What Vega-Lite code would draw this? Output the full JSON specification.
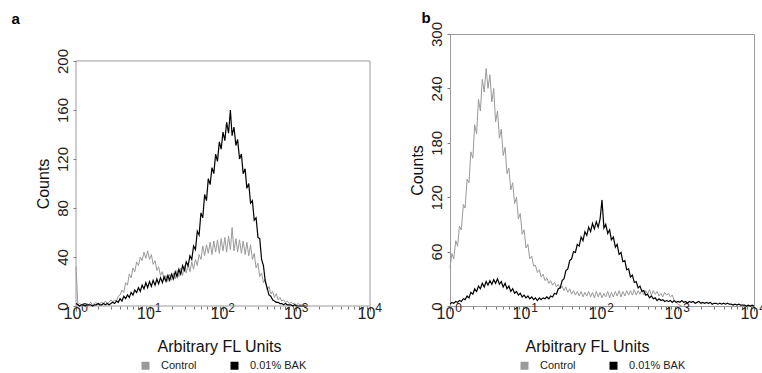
{
  "$schema": "https://vega.github.io/schema/vega-lite/v6.json",
  "background": "white",
  "padding": {"left": 11, "top": 9, "right": 0, "bottom": 0},
  "spacing": 26,
  "datasets": {
    "a": [{"x":1,"C":32,"B":2},{"x":1.06,"C":1,"B":1},{"x":1.12,"C":2,"B":0},{"x":1.19,"C":1,"B":1},{"x":1.26,"C":2,"B":1},{"x":1.33,"C":1,"B":0},{"x":1.41,"C":2,"B":1},{"x":1.5,"C":1,"B":1},{"x":1.58,"C":3,"B":1},{"x":1.68,"C":1,"B":0},{"x":1.78,"C":2,"B":1},{"x":1.88,"C":3,"B":1},{"x":2,"C":1,"B":2},{"x":2.11,"C":2,"B":1},{"x":2.24,"C":3,"B":1},{"x":2.37,"C":2,"B":2},{"x":2.51,"C":4,"B":1},{"x":2.66,"C":2,"B":2},{"x":2.82,"C":3,"B":1},{"x":2.99,"C":5,"B":2},{"x":3.16,"C":3,"B":3},{"x":3.35,"C":5,"B":2},{"x":3.55,"C":4,"B":4},{"x":3.76,"C":8,"B":3},{"x":3.98,"C":9,"B":6},{"x":4.22,"C":13,"B":4},{"x":4.47,"C":11,"B":8},{"x":4.73,"C":19,"B":6},{"x":5.01,"C":17,"B":9},{"x":5.31,"C":26,"B":7},{"x":5.62,"C":23,"B":11},{"x":5.96,"C":31,"B":9},{"x":6.31,"C":28,"B":13},{"x":6.68,"C":36,"B":11},{"x":7.08,"C":33,"B":15},{"x":7.5,"C":40,"B":12},{"x":7.94,"C":37,"B":17},{"x":8.41,"C":44,"B":14},{"x":8.91,"C":39,"B":19},{"x":9.44,"C":45,"B":15},{"x":10,"C":38,"B":20},{"x":10.6,"C":42,"B":16},{"x":11.2,"C":34,"B":21},{"x":11.9,"C":37,"B":17},{"x":12.6,"C":29,"B":22},{"x":13.3,"C":32,"B":18},{"x":14.1,"C":25,"B":23},{"x":15,"C":28,"B":19},{"x":15.8,"C":21,"B":24},{"x":16.8,"C":25,"B":20},{"x":17.8,"C":20,"B":25},{"x":18.8,"C":26,"B":21},{"x":20,"C":21,"B":26},{"x":21.1,"C":27,"B":22},{"x":22.4,"C":22,"B":28},{"x":23.7,"C":29,"B":24},{"x":25.1,"C":24,"B":30},{"x":26.6,"C":31,"B":26},{"x":28.2,"C":25,"B":33},{"x":29.9,"C":33,"B":29},{"x":31.6,"C":27,"B":36},{"x":33.5,"C":34,"B":33},{"x":35.5,"C":28,"B":41},{"x":37.6,"C":36,"B":38},{"x":39.8,"C":30,"B":49},{"x":42.2,"C":38,"B":46},{"x":44.7,"C":33,"B":61},{"x":47.3,"C":42,"B":58},{"x":50.1,"C":38,"B":76},{"x":53.1,"C":49,"B":72},{"x":56.2,"C":41,"B":91},{"x":59.6,"C":50,"B":86},{"x":63.1,"C":43,"B":104},{"x":66.8,"C":52,"B":99},{"x":70.8,"C":42,"B":113},{"x":75,"C":53,"B":108},{"x":79.4,"C":44,"B":124},{"x":84.1,"C":54,"B":118},{"x":89.1,"C":43,"B":134},{"x":94.4,"C":55,"B":128},{"x":100,"C":45,"B":142},{"x":106,"C":56,"B":135},{"x":112,"C":44,"B":150},{"x":119,"C":57,"B":141},{"x":126,"C":46,"B":160},{"x":133,"C":64,"B":139},{"x":141,"C":45,"B":146},{"x":150,"C":55,"B":131},{"x":158,"C":44,"B":136},{"x":168,"C":54,"B":120},{"x":178,"C":43,"B":124},{"x":188,"C":53,"B":108},{"x":200,"C":42,"B":112},{"x":211,"C":52,"B":96},{"x":224,"C":41,"B":100},{"x":237,"C":50,"B":84},{"x":251,"C":38,"B":86},{"x":266,"C":43,"B":70},{"x":282,"C":31,"B":72},{"x":299,"C":35,"B":56},{"x":316,"C":24,"B":55},{"x":335,"C":27,"B":38},{"x":355,"C":19,"B":33},{"x":376,"C":22,"B":20},{"x":398,"C":13,"B":15},{"x":422,"C":16,"B":9},{"x":447,"C":10,"B":8},{"x":473,"C":12,"B":5},{"x":501,"C":7,"B":4},{"x":531,"C":10,"B":3},{"x":562,"C":5,"B":3},{"x":596,"C":7,"B":2},{"x":631,"C":4,"B":2},{"x":668,"C":5,"B":1},{"x":708,"C":3,"B":2},{"x":750,"C":4,"B":1},{"x":794,"C":2,"B":1},{"x":841,"C":3,"B":1},{"x":891,"C":2,"B":0},{"x":944,"C":2,"B":1},{"x":1000,"C":1,"B":0},{"x":1060,"C":2,"B":0},{"x":1120,"C":1,"B":0},{"x":1190,"C":1,"B":0},{"x":1260,"C":0,"B":0},{"x":1330,"C":0,"B":0}],
    "b": [{"x":1,"C":42,"B":2},{"x":1.06,"C":58,"B":4},{"x":1.12,"C":52,"B":3},{"x":1.19,"C":72,"B":5},{"x":1.26,"C":66,"B":4},{"x":1.33,"C":88,"B":6},{"x":1.41,"C":84,"B":5},{"x":1.5,"C":112,"B":8},{"x":1.58,"C":108,"B":7},{"x":1.68,"C":140,"B":11},{"x":1.78,"C":136,"B":9},{"x":1.88,"C":170,"B":15},{"x":2,"C":163,"B":13},{"x":2.11,"C":200,"B":19},{"x":2.24,"C":190,"B":16},{"x":2.37,"C":228,"B":22},{"x":2.51,"C":215,"B":19},{"x":2.66,"C":250,"B":25},{"x":2.82,"C":236,"B":21},{"x":2.99,"C":262,"B":27},{"x":3.16,"C":240,"B":23},{"x":3.35,"C":255,"B":28},{"x":3.55,"C":225,"B":24},{"x":3.76,"C":240,"B":29},{"x":3.98,"C":203,"B":25},{"x":4.22,"C":215,"B":30},{"x":4.47,"C":185,"B":24},{"x":4.73,"C":195,"B":27},{"x":5.01,"C":166,"B":21},{"x":5.31,"C":175,"B":25},{"x":5.62,"C":146,"B":19},{"x":5.96,"C":152,"B":22},{"x":6.31,"C":128,"B":16},{"x":6.68,"C":136,"B":19},{"x":7.08,"C":113,"B":14},{"x":7.5,"C":120,"B":16},{"x":7.94,"C":96,"B":12},{"x":8.41,"C":102,"B":14},{"x":8.91,"C":79,"B":10},{"x":9.44,"C":84,"B":12},{"x":10,"C":64,"B":9},{"x":10.6,"C":68,"B":11},{"x":11.2,"C":52,"B":8},{"x":11.9,"C":55,"B":10},{"x":12.6,"C":44,"B":7},{"x":13.3,"C":45,"B":9},{"x":14.1,"C":37,"B":6},{"x":15,"C":40,"B":9},{"x":15.8,"C":32,"B":7},{"x":16.8,"C":35,"B":9},{"x":17.8,"C":28,"B":8},{"x":18.8,"C":31,"B":10},{"x":20,"C":25,"B":8},{"x":21.1,"C":28,"B":11},{"x":22.4,"C":23,"B":10},{"x":23.7,"C":26,"B":14},{"x":25.1,"C":21,"B":13},{"x":26.6,"C":24,"B":19},{"x":28.2,"C":19,"B":20},{"x":29.9,"C":22,"B":28},{"x":31.6,"C":17,"B":30},{"x":33.5,"C":21,"B":39},{"x":35.5,"C":15,"B":41},{"x":37.6,"C":19,"B":50},{"x":39.8,"C":13,"B":52},{"x":42.2,"C":17,"B":60},{"x":44.7,"C":12,"B":59},{"x":47.3,"C":16,"B":68},{"x":50.1,"C":11,"B":66},{"x":53.1,"C":16,"B":76},{"x":56.2,"C":10,"B":72},{"x":59.6,"C":15,"B":82},{"x":63.1,"C":11,"B":78},{"x":66.8,"C":16,"B":87},{"x":70.8,"C":10,"B":82},{"x":75,"C":15,"B":91},{"x":79.4,"C":9,"B":85},{"x":84.1,"C":16,"B":93},{"x":89.1,"C":10,"B":87},{"x":94.4,"C":15,"B":96},{"x":100,"C":9,"B":117},{"x":106,"C":14,"B":86},{"x":112,"C":10,"B":90},{"x":119,"C":16,"B":80},{"x":126,"C":9,"B":84},{"x":133,"C":15,"B":73},{"x":141,"C":10,"B":76},{"x":150,"C":16,"B":65},{"x":158,"C":11,"B":68},{"x":168,"C":17,"B":57},{"x":178,"C":10,"B":59},{"x":188,"C":16,"B":49},{"x":200,"C":11,"B":50},{"x":211,"C":17,"B":40},{"x":224,"C":12,"B":41},{"x":237,"C":17,"B":32},{"x":251,"C":12,"B":34},{"x":266,"C":18,"B":26},{"x":282,"C":12,"B":27},{"x":299,"C":17,"B":20},{"x":316,"C":13,"B":22},{"x":335,"C":18,"B":16},{"x":355,"C":12,"B":17},{"x":376,"C":17,"B":12},{"x":398,"C":13,"B":13},{"x":422,"C":18,"B":9},{"x":447,"C":12,"B":11},{"x":473,"C":17,"B":8},{"x":501,"C":13,"B":9},{"x":531,"C":16,"B":6},{"x":562,"C":11,"B":8},{"x":596,"C":14,"B":6},{"x":631,"C":10,"B":7},{"x":668,"C":15,"B":5},{"x":708,"C":12,"B":6},{"x":750,"C":14,"B":5},{"x":794,"C":10,"B":6},{"x":841,"C":12,"B":4},{"x":891,"C":6,"B":6},{"x":944,"C":4,"B":4},{"x":1000,"C":2,"B":5},{"x":1060,"C":1,"B":4},{"x":1120,"C":0,"B":6},{"x":1190,"B":4},{"x":1260,"B":5},{"x":1330,"B":3},{"x":1410,"B":5},{"x":1500,"B":4},{"x":1580,"B":5},{"x":1680,"B":3},{"x":1780,"B":4},{"x":1880,"B":5},{"x":2000,"B":3},{"x":2110,"B":4},{"x":2240,"B":3},{"x":2370,"B":4},{"x":2510,"B":3},{"x":2660,"B":4},{"x":2820,"B":2},{"x":2990,"B":3},{"x":3160,"B":3},{"x":3350,"B":2},{"x":3550,"B":3},{"x":3760,"B":2},{"x":3980,"B":3},{"x":4220,"B":2},{"x":4470,"B":3},{"x":4730,"B":2},{"x":5010,"B":2},{"x":5310,"B":1},{"x":5620,"B":2},{"x":5960,"B":1},{"x":6310,"B":2},{"x":6680,"B":1},{"x":7080,"B":1},{"x":7500,"B":1},{"x":7940,"B":0},{"x":8410,"B":1},{"x":8910,"B":0},{"x":9440,"B":1},{"x":10000,"B":0}]
  },
  "hconcat": [
    {
      "width": 294,
      "height": 272,
      "view": {"stroke": null},
      "data": {"name": "a"},
      "transform": [{"fold": ["C", "B"], "as": ["s", "y"]}],
      "layer": [
        {
          "data": {"values": [{}]},
          "mark": {"type": "rect", "fill": null, "stroke": "#9a9a9a", "strokeWidth": 1},
          "encoding": {
            "x": {"datum": 1, "type": "quantitative", "scale": {"type": "log", "domain": [1, 10000], "nice": false}, "axis": null},
            "x2": {"datum": 10000},
            "y": {"datum": 0, "type": "quantitative", "scale": {"domain": [0, 222], "nice": false}, "axis": null},
            "y2": {"datum": 200}
          }
        },
        {
          "transform": [{"filter": "datum.s == 'C'"}],
          "mark": {"type": "line", "strokeWidth": 1},
          "encoding": {
            "x": {"field": "x", "type": "quantitative", "scale": {"type": "log", "domain": [1, 10000], "nice": false},
              "axis": {"orient": "bottom", "domain": false, "values": [1,2,3,4,5,6,7,8,9,10,20,30,40,50,60,70,80,90,100,200,300,400,500,600,700,800,900,1000,2000,3000,4000,5000,6000,7000,8000,9000,10000],
                "labelExpr": "indexof([1,10,100,1000,10000], datum.value) >= 0 ? '10' : ''",
                "labelFontSize": 16, "labelOffset": -4, "labelBaseline": "top", "labelPadding": -6, "labelOverlap": false, "labelFlush": false, "labelBound": false,
                "tickSize": {"condition": {"test": "indexof([1,10,100,1000,10000], datum.value) >= 0", "value": 5}, "value": 3},
                "title": "Arbitrary FL Units", "titleFontSize": 16, "titlePadding": 17, "titleX": 143}},
            "y": {"field": "y", "type": "quantitative", "scale": {"domain": [0, 222], "nice": false},
              "axis": {"orient": "left", "domain": false, "values": [0, 40, 80, 120, 160, 200], "labelAngle": 270, "labelFontSize": 15, "tickSize": 3, "labelPadding": 3, "title": "Counts", "titleFontSize": 16, "titlePadding": 4, "titleY": 149.5}},
            "color": {"field": "s", "type": "nominal", "scale": {"domain": ["C", "B"], "range": ["#9a9a9a", "#000000"]},
              "legend": {"labelExpr": "datum.label == 'C' ? 'Control' : '0.01% BAK'"}}
          }
        },
        {
          "transform": [{"filter": "datum.s == 'B'"}],
          "mark": {"type": "line", "strokeWidth": 1.2},
          "encoding": {
            "x": {"field": "x", "type": "quantitative", "scale": {"type": "log", "domain": [1, 10000], "nice": false},
              "axis": {"orient": "bottom", "values": [1, 10, 100, 1000, 10000], "labelExpr": "'' + round(log(datum.value) / LN10)",
                "labelFontSize": 12, "labelOffset": 8, "labelBaseline": "top", "labelPadding": -4, "domain": false, "ticks": false, "labelOverlap": false, "labelFlush": false, "labelBound": false, "title": null}},
            "y": {"field": "y", "type": "quantitative", "scale": {"domain": [0, 222], "nice": false},
              "axis": {"orient": "left", "labels": false, "ticks": false, "domain": false, "title": "a", "titleAngle": 0, "titleAlign": "left", "titleBaseline": "alphabetic", "titleX": -65, "titleY": -11, "titleFontSize": 15, "titleFontWeight": "bold", "titleColor": "#000000"}},
            "color": {"field": "s", "type": "nominal", "scale": {"domain": ["C", "B"], "range": ["#9a9a9a", "#000000"]},
              "legend": {"labelExpr": "datum.label == 'C' ? 'Control' : '0.01% BAK'"}}
          }
        }
      ],
      "resolve": {"axis": {"x": "independent", "y": "independent"}}
    },
    {
      "width": 304,
      "height": 272,
      "data": {"name": "b"},
      "transform": [{"fold": ["C", "B"], "as": ["s", "y"]}],
      "layer": [
        {
          "transform": [{"filter": "datum.s == 'C'"}],
          "mark": {"type": "line", "strokeWidth": 1},
          "encoding": {
            "x": {"field": "x", "type": "quantitative", "scale": {"type": "log", "domain": [1, 10000], "nice": false},
              "axis": {"orient": "bottom", "values": [1,2,3,4,5,6,7,8,9,10,20,30,40,50,60,70,80,90,100,200,300,400,500,600,700,800,900,1000,2000,3000,4000,5000,6000,7000,8000,9000,10000],
                "labelExpr": "indexof([1,10,100,1000,10000], datum.value) >= 0 ? '10' : ''",
                "labelFontSize": 16, "labelOffset": -5, "labelBaseline": "top", "labelPadding": -6, "labelOverlap": false, "labelFlush": false, "labelBound": false,
                "tickSize": {"condition": {"test": "indexof([1,10,100,1000,10000], datum.value) >= 0", "value": 5}, "value": 3},
                "title": "Arbitrary FL Units", "titleFontSize": 16, "titlePadding": 17, "titleX": 137}},
            "y": {"field": "y", "type": "quantitative", "scale": {"domain": [0, 300], "nice": false},
              "axis": {"orient": "left", "values": [0, 60, 120, 180, 240, 300], "labelAngle": 270, "labelFontSize": 15, "tickSize": 3, "labelPadding": 3, "title": "Counts", "titleFontSize": 16, "titlePadding": 4}},
            "color": {"field": "s", "type": "nominal", "scale": {"domain": ["C", "B"], "range": ["#9a9a9a", "#000000"]},
              "legend": {"labelExpr": "datum.label == 'C' ? 'Control' : '0.01% BAK'"}}
          }
        },
        {
          "transform": [{"filter": "datum.s == 'B'"}],
          "mark": {"type": "line", "strokeWidth": 1.2},
          "encoding": {
            "x": {"field": "x", "type": "quantitative", "scale": {"type": "log", "domain": [1, 10000], "nice": false},
              "axis": {"orient": "bottom", "values": [1, 10, 100, 1000, 10000], "labelExpr": "'' + round(log(datum.value) / LN10)",
                "labelFontSize": 12, "labelOffset": 8, "labelBaseline": "top", "labelPadding": -4, "domain": false, "ticks": false, "labelOverlap": false, "labelFlush": false, "labelBound": false, "title": null}},
            "y": {"field": "y", "type": "quantitative", "scale": {"domain": [0, 300], "nice": false},
              "axis": {"orient": "left", "labels": false, "ticks": false, "domain": false, "title": "b", "titleAngle": 0, "titleAlign": "left", "titleBaseline": "alphabetic", "titleX": -29, "titleY": -12, "titleFontSize": 15, "titleFontWeight": "bold", "titleColor": "#000000"}},
            "color": {"field": "s", "type": "nominal", "scale": {"domain": ["C", "B"], "range": ["#9a9a9a", "#000000"]},
              "legend": {"labelExpr": "datum.label == 'C' ? 'Control' : '0.01% BAK'"}}
          }
        }
      ],
      "resolve": {"axis": {"x": "independent", "y": "independent"}}
    }
  ],
  "resolve": {"legend": {"color": "independent"}},
  "config": {
    "font": "Liberation Sans",
    "view": {"stroke": "#9a9a9a", "strokeWidth": 1},
    "axis": {"grid": false, "domainColor": "#9a9a9a", "tickColor": "#777777", "labelColor": "#222222", "titleColor": "#111111", "titleFontWeight": "normal", "labelFont": "Liberation Sans", "titleFont": "Liberation Sans"},
    "legend": {"orient": "bottom", "direction": "horizontal", "title": null, "symbolType": "square", "symbolSize": 16, "symbolStrokeWidth": 4, "labelFontSize": 11, "labelOffset": 10, "columnPadding": 27, "offset": 6, "labelColor": "#222222", "labelFont": "Liberation Sans", "layout": {"bottom": {"anchor": "middle"}}},
    "title": {"font": "Liberation Sans"}
  }
}
